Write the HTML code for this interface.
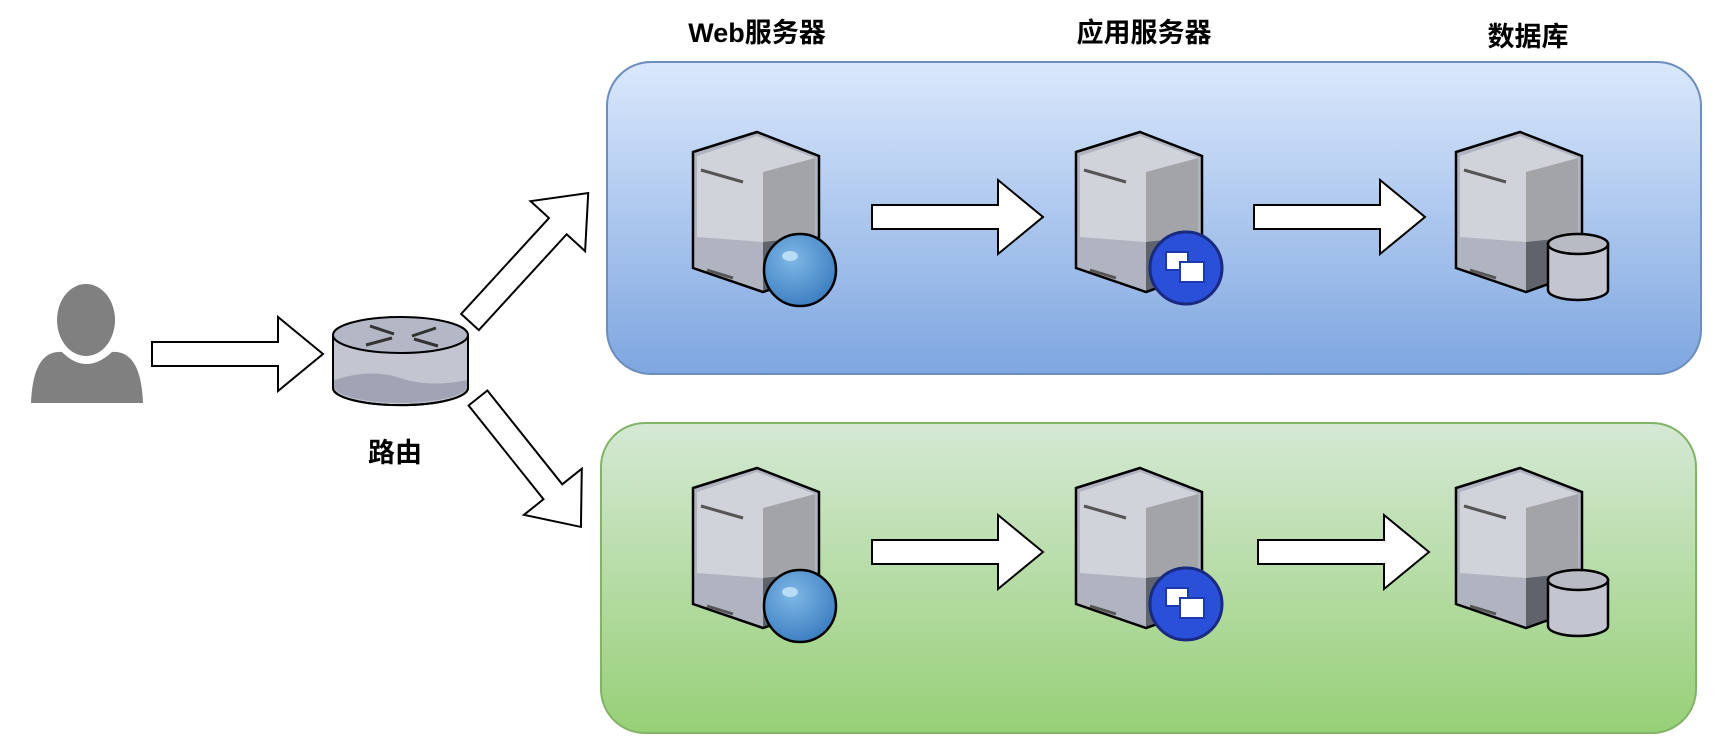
<!DOCTYPE html>
<html><head><meta charset="utf-8"><style>
html,body{margin:0;padding:0;background:#fff;}
svg{display:block;}
text{font-family:"Liberation Sans","Noto Sans CJK SC",sans-serif;font-weight:bold;fill:#000;}
</style></head><body>
<svg width="1730" height="754" viewBox="0 0 1730 754" xmlns="http://www.w3.org/2000/svg">
<defs>
<linearGradient id="gb" x1="0" y1="0" x2="0" y2="1"><stop offset="0" stop-color="#dae8fc"/><stop offset="1" stop-color="#7ea6e0"/></linearGradient>
<linearGradient id="gg" x1="0" y1="0" x2="0" y2="1"><stop offset="0" stop-color="#d5e8d4"/><stop offset="1" stop-color="#97d077"/></linearGradient>
<radialGradient id="globe" cx="0.4" cy="0.35" r="0.7"><stop offset="0" stop-color="#7fb8e6"/><stop offset="1" stop-color="#3a7cc0"/></radialGradient>
<g id="srv">
  <path d="M0,20 L64,0 L126,24 L126,140 L70,160 L0,136 Z" fill="#b0b4c0"/>
  <path d="M4,24 L64,4 L122,26 L122,92 Q70,100 70,110 L4,105 Z" fill="#d0d3da"/>
  <path d="M70,40 L122,26 L122,104 L70,110 Z" fill="#a2a4a8"/>
  <path d="M70,110 L126,104 L126,140 L70,160 Z" fill="#5f636b"/>
  <path d="M0,20 L64,0 L126,24 L126,140 L70,160 L0,136 Z" fill="none" stroke="#000" stroke-width="2.5"/>
  <line x1="8" y1="38" x2="50" y2="50" stroke="#555" stroke-width="3"/>
  <line x1="14" y1="138" x2="40" y2="146" stroke="#555" stroke-width="3"/>
</g>
<polygon id="arr" points="0,-12 126,-12 126,-37 171,0 126,37 126,12 0,12" fill="#fff" stroke="#000" stroke-width="2"/>
</defs>

<text x="757" y="42" font-size="27" text-anchor="middle">Web服务器</text>
<text x="1144" y="42" font-size="27" text-anchor="middle">应用服务器</text>
<text x="1528" y="46" font-size="27" text-anchor="middle">数据库</text>

<rect x="607" y="62" width="1094" height="312" rx="44" fill="url(#gb)" stroke="#6c8ebf" stroke-width="2"/>
<rect x="601" y="423" width="1095" height="310" rx="44" fill="url(#gg)" stroke="#82b366" stroke-width="2"/>

<!-- person -->
<ellipse cx="86" cy="320" rx="29" ry="36" fill="#808080"/>
<path d="M31,403 Q33,350 62,352 Q86,376 112,352 Q141,350 143,403 Z" fill="#808080"/>

<use href="#arr" x="152" y="354"/>

<!-- router -->
<path d="M333,335 L333,388 A67,17 0 0 0 468,388 L468,335 Z" fill="#c3c6d0" stroke="#000" stroke-width="2"/>
<path d="M334,380 Q370,368 400,378 Q430,388 467,380 L467,388 A67,17 0 0 1 334,388 Z" fill="#a0a4b4"/>
<path d="M333,388 A67,17 0 0 0 468,388" fill="none" stroke="#000" stroke-width="2"/>
<ellipse cx="400.5" cy="335" rx="67.5" ry="18" fill="#b4b8c6" stroke="#000" stroke-width="2"/>
<g stroke="#333" stroke-width="3" fill="none">
<line x1="370" y1="326" x2="394" y2="334"/><line x1="412" y1="336" x2="436" y2="328"/>
<line x1="392" y1="338" x2="366" y2="345"/><line x1="414" y1="339" x2="438" y2="346"/>
</g>
<text x="395" y="462" font-size="27" text-anchor="middle">路由</text>

<!-- diagonal arrows -->
<g transform="translate(470,322) rotate(-47.5)"><polygon points="0,-12 130,-12 130,-37 175,0 130,37 130,12 0,12" fill="#fff" stroke="#000" stroke-width="2"/></g>
<g transform="translate(478,398) rotate(51.4)"><polygon points="0,-12 120,-12 120,-37 165,0 120,37 120,12 0,12" fill="#fff" stroke="#000" stroke-width="2"/></g>

<!-- top row -->
<use href="#srv" x="693" y="132"/>
<circle cx="800" cy="270" r="36" fill="url(#globe)" stroke="#000" stroke-width="2.5"/>
<ellipse cx="790" cy="256" rx="8" ry="5" fill="#b8dcf5"/>
<use href="#arr" x="872" y="217"/>
<use href="#srv" x="1076" y="132"/>
<circle cx="1186" cy="268" r="36" fill="#2a4fd8" stroke="#1a2a80" stroke-width="3"/>
<rect x="1166" y="252" width="22" height="18" fill="#fff" stroke="#1a3ab0" stroke-width="2"/>
<rect x="1180" y="262" width="24" height="20" fill="#fff" stroke="#1a3ab0" stroke-width="2"/>
<use href="#arr" x="1254" y="217"/>
<use href="#srv" x="1456" y="132"/>
<path d="M1548,244 L1548,290 A30,10 0 0 0 1608,290 L1608,244 Z" fill="#c3c6d0" stroke="#000" stroke-width="2.5"/>
<ellipse cx="1578" cy="244" rx="30" ry="10" fill="#b8bbc4" stroke="#000" stroke-width="2.5"/>

<!-- bottom row -->
<use href="#srv" x="693" y="468"/>
<circle cx="800" cy="606" r="36" fill="url(#globe)" stroke="#000" stroke-width="2.5"/>
<ellipse cx="790" cy="592" rx="8" ry="5" fill="#b8dcf5"/>
<use href="#arr" x="872" y="552"/>
<use href="#srv" x="1076" y="468"/>
<circle cx="1186" cy="604" r="36" fill="#2a4fd8" stroke="#1a2a80" stroke-width="3"/>
<rect x="1166" y="588" width="22" height="18" fill="#fff" stroke="#1a3ab0" stroke-width="2"/>
<rect x="1180" y="598" width="24" height="20" fill="#fff" stroke="#1a3ab0" stroke-width="2"/>
<use href="#arr" x="1258" y="552"/>
<use href="#srv" x="1456" y="468"/>
<path d="M1548,580 L1548,626 A30,10 0 0 0 1608,626 L1608,580 Z" fill="#c3c6d0" stroke="#000" stroke-width="2.5"/>
<ellipse cx="1578" cy="580" rx="30" ry="10" fill="#b8bbc4" stroke="#000" stroke-width="2.5"/>
</svg>
</body></html>
